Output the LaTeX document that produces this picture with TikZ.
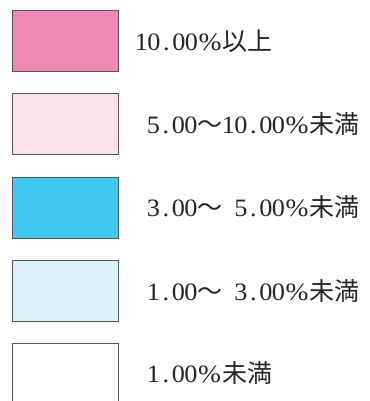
\documentclass[tikz,border=0pt]{standalone}
\usepackage{fontspec}
\usepackage{graphicx}
\setmainfont{Liberation Serif}
\newfontfamily\jpfont{Noto Sans CJK JP}
\newcommand\hw[1]{\makebox[0.5em][c]{\scalebox{1.05}[1]{#1}}}
\newcommand\pc{\makebox[1em][c]{\scalebox{1.1}[1]{\%}}}
\newcommand\fw[1]{\makebox[1em][c]{\jpfont #1}}
\newcommand\hsp{\hspace*{0.5em}}
\definecolor{cA}{HTML}{F088B4}
\definecolor{cB}{HTML}{FBE3EE}
\definecolor{cC}{HTML}{40C8F0}
\definecolor{cD}{HTML}{DCF1FB}
\definecolor{edge}{HTML}{555555}
\tikzset{
  swatch/.style={draw=edge, line width=1.1pt, rectangle, inner sep=0pt,
    minimum width=106pt, minimum height=61pt, anchor=north west},
  lbl/.style={anchor=base west, inner sep=0pt, text=black!85,
    font=\fontsize{25}{25}\selectfont}
}
\begin{document}
\begin{tikzpicture}[x=1pt,y=-1pt]
\useasboundingbox (0,0) rectangle (369,401);
\clip (0,0) rectangle (369,401);
\node[swatch, fill=cA] (b1) at (12,10) {};
\node[swatch, fill=cB] (b2) at (12,93.3) {};
\node[swatch, fill=cC] (b3) at (12,176.7) {};
\node[swatch, fill=cD] (b4) at (12,260) {};
\node[swatch, fill=white] (b5) at (12,343.3) {};
\node[lbl] (t1) at (135,50.5) {\hw{1}\hw{0}\hw{.}\hw{0}\hw{0}\pc\fw{以}\fw{上}};
\node[lbl] (t2) at (147,133) {\hw{5}\hw{.}\hw{0}\hw{0}\fw{～}\hw{1}\hw{0}\hw{.}\hw{0}\hw{0}\pc\fw{未}\fw{満}};
\node[lbl] (t3) at (147,216) {\hw{3}\hw{.}\hw{0}\hw{0}\fw{～}\hsp\hw{5}\hw{.}\hw{0}\hw{0}\pc\fw{未}\fw{満}};
\node[lbl] (t4) at (147,300) {\hw{1}\hw{.}\hw{0}\hw{0}\fw{～}\hsp\hw{3}\hw{.}\hw{0}\hw{0}\pc\fw{未}\fw{満}};
\node[lbl] (t5) at (147,382.5) {\hw{1}\hw{.}\hw{0}\hw{0}\pc\fw{未}\fw{満}};
\end{tikzpicture}
\end{document}
